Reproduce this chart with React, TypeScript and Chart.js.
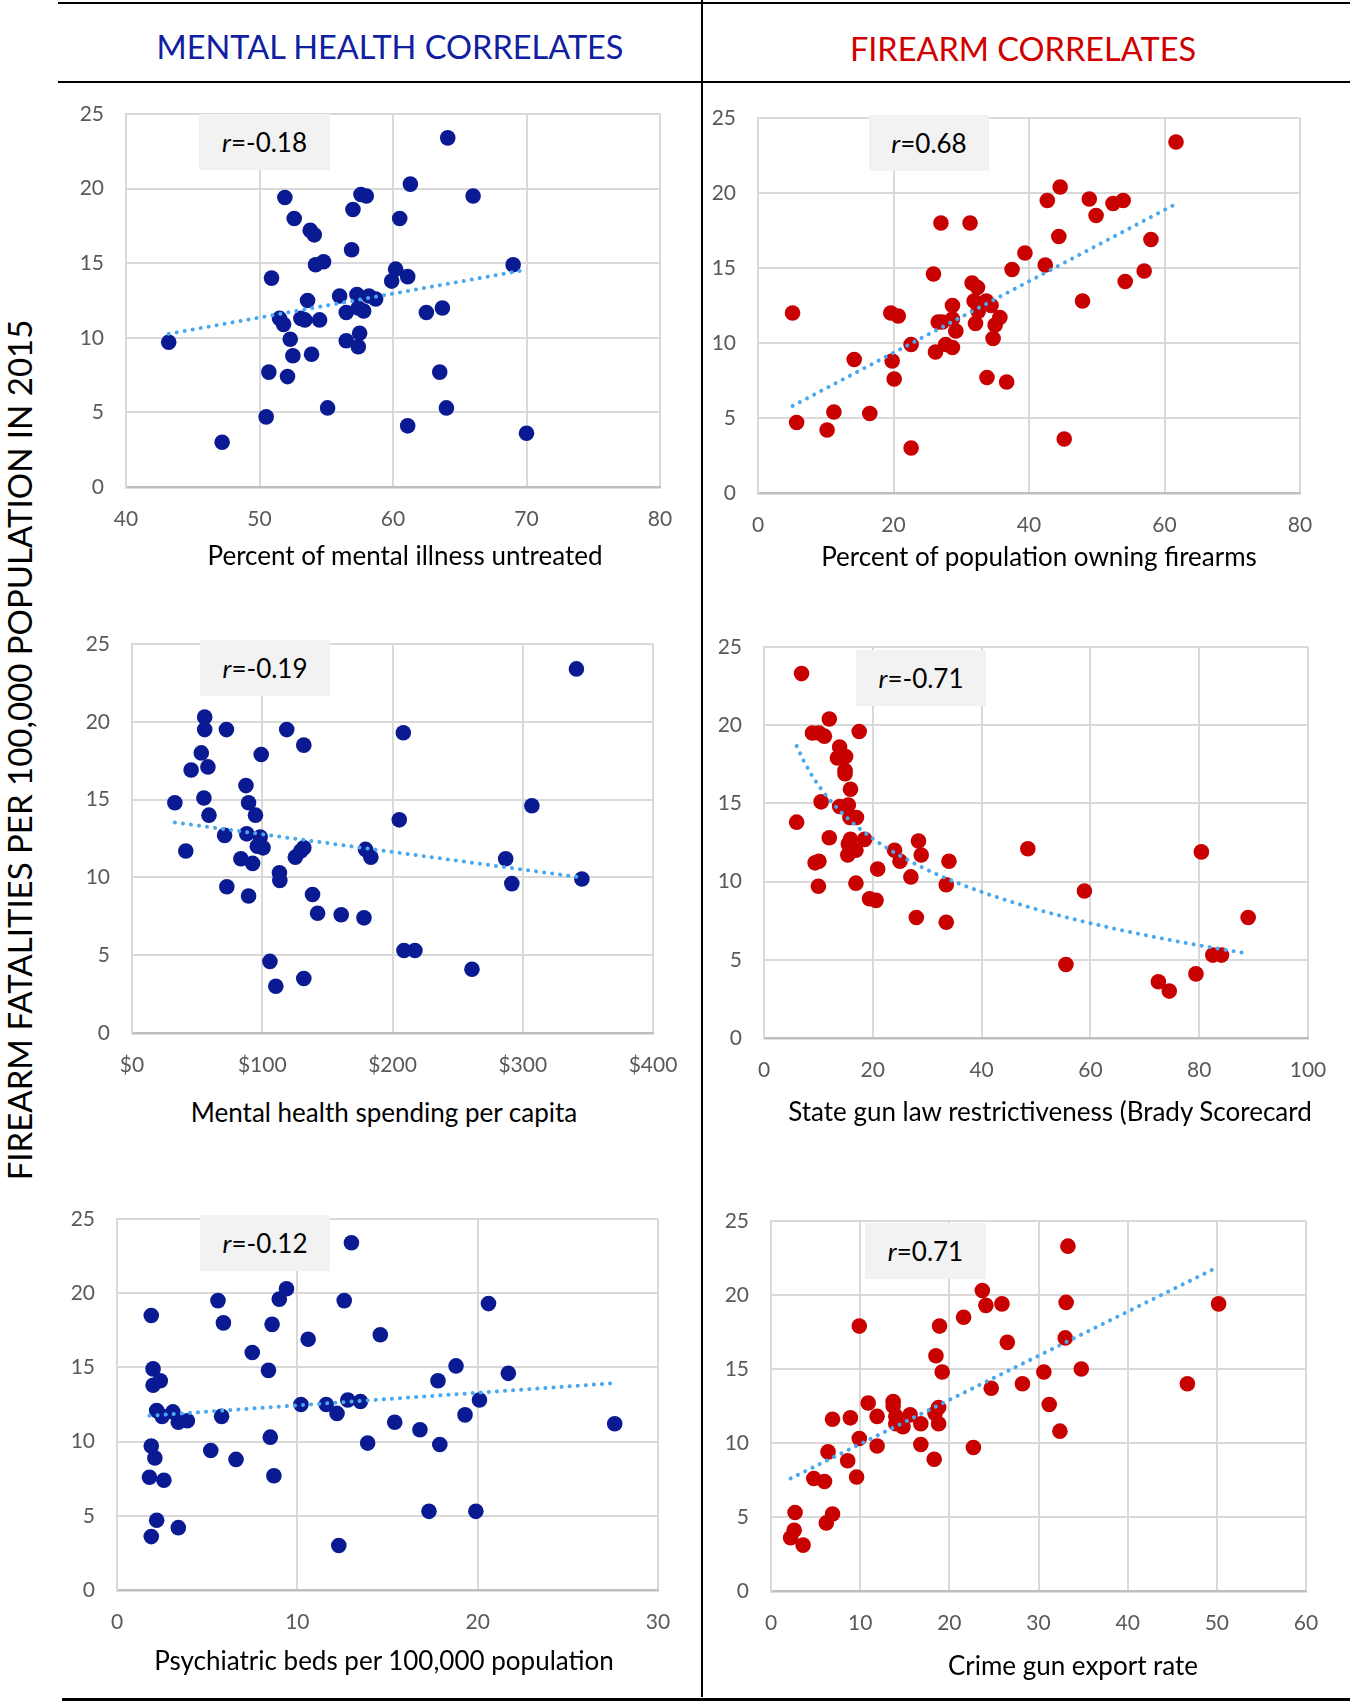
import { useEffect, useRef } from 'react';
import { Chart, registerables } from 'chart.js';

Chart.register(...registerables);
Chart.defaults.font.family = 'Lato';

// Percent of mental illness untreated
const untreatedX = [43.2, 47.2, 50.5, 50.7, 50.9, 51.9, 51.5, 51.8, 52.3, 52.1, 52.5, 52.6, 53.8, 54.1, 53.6, 53.1, 53.4, 54.5, 53.9, 54.2, 54.8, 55.1, 56.0, 56.5, 56.5, 56.9, 57.0, 57.6, 58.0, 57.3, 57.4, 57.8, 58.2, 58.7, 57.5, 57.4, 59.9, 60.2, 61.1, 60.5, 61.3, 61.1, 62.5, 63.7, 63.5, 64.0, 64.1, 66.0, 69.0, 70.0];
const untreatedY = [9.7, 3.0, 4.7, 7.7, 14.0, 19.4, 11.3, 10.9, 9.9, 7.4, 8.8, 18.0, 17.2, 16.9, 12.5, 11.3, 11.2, 11.2, 8.9, 14.9, 15.1, 5.3, 12.8, 11.7, 9.8, 15.9, 18.6, 19.6, 19.5, 12.9, 12.0, 11.8, 12.8, 12.6, 10.3, 9.4, 13.8, 14.6, 14.1, 18.0, 20.3, 4.1, 11.7, 12.0, 7.7, 5.3, 23.4, 19.5, 14.9, 3.6];

// Percent of population owning firearms
const owningX = [5.1, 5.7, 10.2, 11.2, 14.2, 16.5, 19.6, 20.7, 19.8, 20.1, 22.6, 22.6, 25.9, 27.0, 26.2, 26.6, 27.2, 27.7, 28.7, 28.7, 28.7, 29.2, 31.3, 31.6, 32.4, 31.9, 32.5, 32.1, 33.7, 34.4, 35.7, 35.0, 34.7, 33.8, 36.7, 37.5, 39.4, 42.4, 42.7, 44.6, 44.4, 45.2, 47.9, 48.9, 49.9, 52.4, 53.9, 54.2, 57.0, 58.0, 61.7];
const owningY = [12.0, 4.7, 4.2, 5.4, 8.9, 5.3, 12.0, 11.8, 8.8, 7.6, 3.0, 9.9, 14.6, 18.0, 9.4, 11.4, 11.4, 9.9, 9.7, 12.5, 11.6, 10.8, 18.0, 14.0, 13.7, 12.8, 12.1, 11.3, 12.8, 12.5, 11.7, 11.2, 10.3, 7.7, 7.4, 14.9, 16.0, 15.2, 19.5, 20.4, 17.1, 3.6, 12.8, 19.6, 18.5, 19.3, 19.5, 14.1, 14.8, 16.9, 23.4];

// Mental health spending per capita ($)
const spendingX = [32.9, 41.3, 45.4, 53.2, 55.8, 55.8, 58.3, 55.2, 59.1, 72.5, 71.1, 72.8, 83.6, 87.5, 89.5, 94.8, 88.1, 92.6, 89.5, 98.4, 96.2, 100.6, 99.2, 105.9, 110.4, 113.2, 113.5, 118.8, 125.4, 129.6, 131.9, 131.9, 131.9, 138.6, 142.5, 160.6, 178.1, 179.3, 183.4, 205.2, 208.3, 208.8, 217.2, 261.0, 286.9, 291.6, 307.0, 341.2, 345.4];
const spendingY = [14.8, 11.7, 16.9, 18.0, 20.3, 19.5, 17.1, 15.1, 14.0, 19.5, 12.7, 9.4, 11.2, 15.9, 14.8, 14.0, 12.8, 10.9, 8.8, 12.6, 12.0, 11.9, 17.9, 4.6, 3.0, 10.3, 9.8, 19.5, 11.3, 11.7, 11.9, 18.5, 3.5, 8.9, 7.7, 7.6, 7.4, 11.8, 11.3, 13.7, 19.3, 5.3, 5.3, 4.1, 11.2, 9.6, 14.6, 23.4, 9.9];

// Brady scorecard
const bradyX = [6.9, 6.0, 8.9, 10.1, 11.1, 12.0, 17.5, 13.9, 13.5, 15.0, 14.9, 14.9, 15.9, 10.5, 13.9, 15.5, 15.8, 17.0, 12.0, 15.9, 18.5, 15.5, 15.4, 16.9, 9.4, 10.1, 10.0, 16.9, 20.9, 19.4, 20.6, 24.0, 25.0, 28.4, 28.9, 27.0, 28.0, 33.5, 34.0, 33.5, 48.5, 58.9, 55.5, 72.5, 74.5, 79.4, 80.4, 82.5, 84.1, 89.0];
const bradyY = [23.3, 13.8, 19.5, 19.5, 19.3, 20.4, 19.6, 18.6, 17.9, 18.0, 17.1, 16.9, 15.9, 15.1, 14.8, 14.9, 14.1, 14.1, 12.8, 12.7, 12.7, 12.4, 11.7, 12.0, 11.2, 11.3, 9.7, 9.9, 10.8, 8.9, 8.8, 12.0, 11.3, 12.6, 11.7, 10.3, 7.7, 9.8, 11.3, 7.4, 12.1, 9.4, 4.7, 3.6, 3.0, 4.1, 11.9, 5.3, 5.3, 7.7];

// Psychiatric beds per 100,000
const bedsX = [1.9, 2.0, 2.0, 2.4, 2.2, 2.5, 3.1, 3.4, 3.9, 1.9, 2.1, 1.8, 2.6, 2.2, 1.9, 3.4, 5.6, 5.9, 5.8, 5.2, 6.6, 7.5, 8.4, 8.6, 9.0, 9.4, 8.5, 8.7, 10.6, 10.2, 11.6, 12.2, 12.3, 12.6, 13.0, 12.8, 13.5, 13.9, 14.6, 15.4, 16.8, 17.3, 17.8, 17.9, 18.8, 19.3, 20.1, 19.9, 20.6, 21.7, 27.6];
const bedsY = [18.5, 14.9, 13.8, 14.1, 12.1, 11.7, 12.0, 11.3, 11.4, 9.7, 8.9, 7.6, 7.4, 4.7, 3.6, 4.2, 19.5, 18.0, 11.7, 9.4, 8.8, 16.0, 14.8, 17.9, 19.6, 20.3, 10.3, 7.7, 16.9, 12.5, 12.5, 11.9, 3.0, 19.5, 23.4, 12.8, 12.7, 9.9, 17.2, 11.3, 10.8, 5.3, 14.1, 9.8, 15.1, 11.8, 12.8, 5.3, 19.3, 14.6, 11.2];

// Crime gun export rate
const exportX = [2.7, 2.6, 2.2, 3.6, 6.2, 6.9, 4.8, 6.0, 6.4, 8.6, 9.6, 6.9, 8.9, 9.9, 9.9, 10.9, 11.9, 11.9, 13.7, 13.7, 14.0, 14.0, 14.8, 15.6, 16.8, 16.8, 18.3, 18.5, 19.2, 18.9, 18.8, 18.4, 18.8, 21.6, 22.7, 23.7, 24.1, 25.9, 24.7, 26.5, 28.2, 30.6, 31.2, 32.4, 33.0, 33.1, 33.3, 34.8, 46.7, 50.2];
const exportY = [5.3, 4.1, 3.6, 3.1, 4.6, 5.2, 7.6, 7.4, 9.4, 8.8, 7.7, 11.6, 11.7, 17.9, 10.3, 12.7, 11.8, 9.8, 12.8, 12.5, 11.8, 11.3, 11.1, 11.9, 11.3, 9.9, 8.9, 15.9, 14.8, 17.9, 12.4, 12.0, 11.3, 18.5, 9.7, 20.3, 19.3, 19.4, 13.7, 16.8, 14.0, 14.8, 12.6, 10.8, 17.1, 19.5, 23.3, 15.0, 14.0, 19.4];

const yTicks = [0, 5, 10, 15, 20, 25];

const BLUE = '#0A1A92';
const RED = '#C80000';
const TREND = '#4AA8F0';

const AXW = 80;
const TOPPAD = 16;
const RIGHTPAD = 40;
const XH = 60;

// least-squares fit, optionally against ln(x) like Excel's logarithmic trendline
function trendPoints(xs: number[], ys: number[], fit: 'linear' | 'log') {
  const f = (x: number) => (fit === 'log' ? Math.log(x) : x);
  const us = xs.map(f);
  const n = xs.length;
  const mu = us.reduce((a, b) => a + b, 0) / n;
  const my = ys.reduce((a, b) => a + b, 0) / n;
  let sxy = 0;
  let sxx = 0;
  for (let i = 0; i < n; i++) {
    sxy += (us[i] - mu) * (ys[i] - my);
    sxx += (us[i] - mu) ** 2;
  }
  const b = sxy / sxx;
  const a = my - b * mu;
  const lo = Math.min(...xs);
  const hi = Math.max(...xs);
  const steps = fit === 'log' ? 60 : 1;
  const pts = [];
  for (let i = 0; i <= steps; i++) {
    const x = lo + ((hi - lo) * i) / steps;
    pts.push({ x, y: a + b * f(x) });
  }
  return pts;
}

// fixed axis sizes so the plot area lands exactly where it should
function pinScale(s: any, size: { width?: number; height?: number }) {
  if (size.width !== undefined) s.width = size.width;
  if (size.height !== undefined) s.height = size.height;
  s.paddingTop = 0;
  s.paddingBottom = 0;
  s.paddingLeft = 0;
  s.paddingRight = 0;
}

interface PanelProps {
  xs: number[];
  ys: number[];
  color: string;
  xMin: number;
  xMax: number;
  xStep: number;
  prefix?: string;
  fit: 'linear' | 'log';
  left: number;
  top: number;
  right: number;
  bottom: number;
}

function Panel({ xs, ys, color, xMin, xMax, xStep, prefix = '', fit, left, top, right, bottom }: PanelProps) {
  const canvasRef = useRef<HTMLCanvasElement>(null);
  const w = right - left + AXW + RIGHTPAD;
  const h = bottom - top + TOPPAD + XH;

  useEffect(() => {
    if (!canvasRef.current) return;
    const points = xs.map((x, i) => ({ x, y: ys[i] }));
    const chart = new Chart(canvasRef.current, {
      type: 'scatter',
      data: {
        datasets: [
          {
            type: 'scatter',
            data: trendPoints(xs, ys, fit),
            showLine: true,
            borderColor: TREND,
            borderWidth: 4,
            borderDash: [0.1, 8],
            borderCapStyle: 'round',
            pointRadius: 0,
            order: 0,
          },
          {
            type: 'scatter',
            data: points,
            backgroundColor: color,
            borderColor: color,
            pointRadius: 7.8,
            borderWidth: 0,
            order: 1,
          },
        ],
      },
      options: {
        responsive: false,
        animation: false,
        devicePixelRatio: 1,
        layout: { padding: { left: 0, right: RIGHTPAD, top: TOPPAD, bottom: 0 } },
        plugins: { legend: { display: false }, tooltip: { enabled: false } },
        scales: {
          x: {
            type: 'linear',
            min: xMin,
            max: xMax,
            afterBuildTicks: (s: any) => {
              const t = [];
              for (let v = xMin; v <= xMax; v += xStep) t.push({ value: v });
              s.ticks = t;
            },
            afterFit: (s: any) => pinScale(s, { height: XH }),
            ticks: {
              padding: 20,
              color: '#595959',
              font: { size: 21 },
              maxRotation: 0,
              callback: (v: any) => prefix + v,
            },
            grid: { color: '#D9D9D9', lineWidth: 2, drawTicks: false },
            border: { color: '#BFBFBF', width: 2.5 },
          },
          y: {
            type: 'linear',
            min: 0,
            max: 25,
            afterBuildTicks: (s: any) => {
              s.ticks = yTicks.map((value) => ({ value }));
            },
            afterFit: (s: any) => pinScale(s, { width: AXW }),
            ticks: { padding: 22, color: '#595959', font: { size: 21 } },
            grid: { color: '#D9D9D9', lineWidth: 2, drawTicks: false },
            border: { color: '#D9D9D9', width: 2 },
          },
        },
      },
    } as any);
    return () => chart.destroy();
  }, [xs, ys, color, xMin, xMax, xStep, prefix, fit]);

  return (
    <canvas
      ref={canvasRef}
      width={w}
      height={h}
      style={{ position: 'absolute', left: left - AXW, top: top - TOPPAD, width: w, height: h }}
    />
  );
}

function Label({ x, y, text, size = 26, color = '#000' }: { x: number; y: number; text: string; size?: number; color?: string }) {
  return (
    <div
      style={{
        position: 'absolute',
        left: x,
        top: y,
        transform: 'translate(-50%, -50%)',
        whiteSpace: 'nowrap',
        fontSize: size,
        color,
        lineHeight: 1,
      }}
    >
      {text}
    </div>
  );
}

function RBox({ left, top, width, value }: { left: number; top: number; width: number; value: string }) {
  return (
    <div
      style={{
        position: 'absolute',
        left,
        top,
        width,
        height: 56,
        background: '#F2F2F2',
        display: 'flex',
        alignItems: 'center',
        justifyContent: 'center',
        fontSize: 26,
        color: '#000',
      }}
    >
      <i>r</i>={value}
    </div>
  );
}

function Rule({ left, top, width, height }: { left: number; top: number; width: number; height: number }) {
  return <div style={{ position: 'absolute', left, top, width, height, background: '#000' }} />;
}

export default function App() {
  return (
    <div
      style={{
        position: 'absolute',
        left: 0,
        top: 0,
        width: 1350,
        height: 1704,
        background: '#fff',
        overflow: 'hidden',
        fontFamily: 'Lato, sans-serif',
      }}
    >
      <Rule left={58} top={2} width={1292} height={2} />
      <Rule left={58} top={81} width={1292} height={2} />
      <Rule left={62} top={1698} width={1288} height={2.5} />
      <Rule left={701} top={0} width={2} height={1697} />

      <Label x={390} y={47} text="MENTAL HEALTH CORRELATES" size={32.5} color="#1020A0" />
      <Label x={1023} y={49} text="FIREARM CORRELATES" size={32.5} color="#D00000" />

      <div
        style={{
          position: 'absolute',
          left: 19,
          top: 750,
          transform: 'translate(-50%, -50%) rotate(-90deg)',
          whiteSpace: 'nowrap',
          fontSize: 33,
          lineHeight: 1,
          color: '#000',
        }}
      >
        FIREARM FATALITIES PER 100,000 POPULATION IN 2015
      </div>

      <Panel xs={untreatedX} ys={untreatedY} color={BLUE} xMin={40} xMax={80} xStep={10} fit="linear" left={126} top={114} right={660} bottom={487} />
      <Panel xs={owningX} ys={owningY} color={RED} xMin={0} xMax={80} xStep={20} fit="linear" left={758} top={118} right={1300} bottom={493} />
      <Panel xs={spendingX} ys={spendingY} color={BLUE} xMin={0} xMax={400} xStep={100} prefix="$" fit="linear" left={132} top={644} right={653} bottom={1033} />
      <Panel xs={bradyX} ys={bradyY} color={RED} xMin={0} xMax={100} xStep={20} fit="log" left={764} top={647} right={1308} bottom={1038} />
      <Panel xs={bedsX} ys={bedsY} color={BLUE} xMin={0} xMax={30} xStep={10} fit="linear" left={117} top={1219} right={658} bottom={1590} />
      <Panel xs={exportX} ys={exportY} color={RED} xMin={0} xMax={60} xStep={10} fit="linear" left={771} top={1221} right={1306} bottom={1591} />

      <Label x={405} y={555} text="Percent of mental illness untreated" />
      <Label x={1039} y={556} text="Percent of population owning firearms" />
      <Label x={384} y={1112} text="Mental health spending per capita" />
      <Label x={1050} y={1111} text="State gun law restrictiveness (Brady Scorecard" />
      <Label x={384} y={1660} text="Psychiatric beds per 100,000 population" />
      <Label x={1073} y={1665} text="Crime gun export rate" />

      <RBox left={199} top={114} width={131} value="-0.18" />
      <RBox left={869} top={115} width={120} value="0.68" />
      <RBox left={200} top={640} width={130} value="-0.19" />
      <RBox left={856} top={650} width={130} value="-0.71" />
      <RBox left={200} top={1215} width={130} value="-0.12" />
      <RBox left={865} top={1223} width={121} value="0.71" />
    </div>
  );
}
